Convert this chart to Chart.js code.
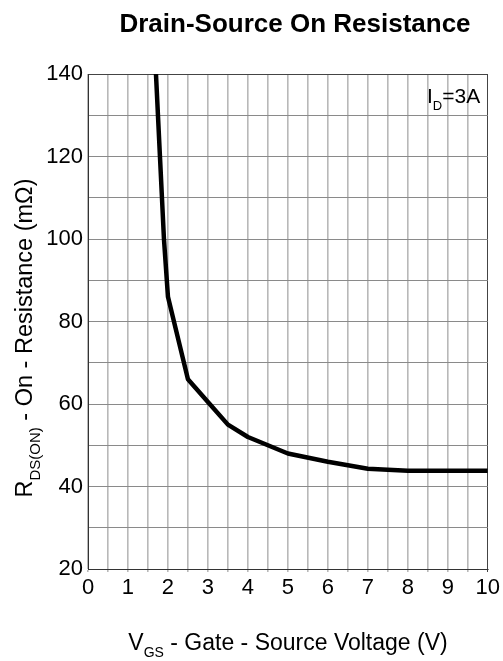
<!DOCTYPE html>
<html>
<head>
<meta charset="utf-8">
<title>Drain-Source On Resistance</title>
<script src="https://cdn.jsdelivr.net/npm/chart.js@4.4.1/dist/chart.umd.min.js"></script>
<style>
  html, body { margin: 0; padding: 0; background: #fff; }
  #wrap { width: 503px; height: 661px; position: relative; }
</style>
</head>
<body>
<div id="wrap"><canvas id="rds"></canvas></div>
<script>
// V_GS sweep (V) and measured R_DS(on) (mOhm) at I_D = 3A
const vgs   = [1.7, 1.8, 1.9, 2.0, 2.5, 3.0, 3.5, 4.0, 5.0, 6.0, 7.0, 8.0, 9.0, 10.0];
const rdsOn = [140, 120, 100, 86, 66, 60.5, 55, 52, 48, 46, 44.3, 43.8, 43.8, 43.8];

const xTickLabels = ['0', '1', '2', '3', '4', '5', '6', '7', '8', '9', '10'];
const yTickLabels = ['20', '40', '60', '80', '100', '120', '140'];

const FONT = "'Liberation Sans', Arial, Helvetica, sans-serif";

// draws a run of text pieces, some of them as subscripts
function drawRich(ctx, parts, x, y, size, align) {
  const fontFor = p => (p.bold ? 'bold ' : '') + (p.sub ? Math.round(size * 0.62) : size) + 'px ' + FONT;
  let total = 0;
  parts.forEach(p => { ctx.font = fontFor(p); total += ctx.measureText(p.text).width; });
  let cx = align === 'left' ? x : x - total / 2;
  ctx.textAlign = 'left';
  ctx.textBaseline = 'alphabetic';
  parts.forEach(p => {
    ctx.font = fontFor(p);
    ctx.fillText(p.text, cx, y + (p.sub ? size * 0.32 : 0));
    cx += ctx.measureText(p.text).width;
  });
}

const labelsPlugin = {
  id: 'labels',
  afterDraw(chart) {
    const ctx = chart.ctx;
    ctx.save();
    ctx.fillStyle = '#000';

    drawRich(ctx, [{ text: 'Drain-Source On Resistance', bold: true }], 295, 32, 26, 'center');

    drawRich(ctx, [
      { text: 'V' }, { text: 'GS', sub: true }, { text: ' - Gate - Source Voltage (V)' }
    ], 288, 650, 23, 'center');

    ctx.save();
    ctx.translate(32, 338);
    ctx.rotate(-Math.PI / 2);
    drawRich(ctx, [
      { text: 'R' }, { text: 'DS(ON)', sub: true }, { text: ' - On - Resistance (m\u03A9)' }
    ], 0, 0, 23.5, 'center');
    ctx.restore();

    drawRich(ctx, [
      { text: 'I' }, { text: 'D', sub: true }, { text: '=3A' }
    ], 427, 103, 21, 'left');

    ctx.restore();
  }
};

const points = vgs.map((v, i) => ({ x: v, y: rdsOn[i] }));

new Chart(document.getElementById('rds'), {
  type: 'line',
  data: {
    datasets: [{
      data: points,
      borderColor: '#000',
      borderWidth: 4.5,
      pointRadius: 0,
      tension: 0,
      fill: false,
      borderJoinStyle: 'round'
    }]
  },
  options: {
    responsive: true,
    maintainAspectRatio: false,
    animation: false,
    layout: { padding: { top: 74, right: 13, left: 0, bottom: 0 } },
    plugins: {
      legend: { display: false },
      tooltip: { enabled: false }
    },
    scales: {
      x: {
        type: 'linear',
        min: 0,
        max: 10,
        afterFit: s => { s.height = 92; },
        ticks: {
          stepSize: 0.5,
          autoSkip: false,
          maxRotation: 0,
          padding: 3,
          color: '#000',
          font: { family: FONT, size: 22 },
          callback: v => (Number.isInteger(v) ? xTickLabels[v] : '')
        },
        grid: {
          color: c => (c.tick && c.tick.value === 10 ? '#444' : '#b8b8b8'),
          lineWidth: c => (c.tick && c.tick.value === 10 ? 1 : 1.6),
          tickLength: 3
        },
        border: { color: '#333', width: 1 }
      },
      y: {
        type: 'linear',
        min: 20,
        max: 140,
        afterFit: s => { s.width = 88; },
        ticks: {
          stepSize: 10,
          autoSkip: false,
          padding: 5,
          color: '#000',
          font: { family: FONT, size: 22 },
          callback: v => {
            const k = (v - 20) / 20;
            return Number.isInteger(k) ? yTickLabels[k] : '';
          }
        },
        grid: {
          color: c => (c.tick && c.tick.value === 140 ? '#444' : '#8a8a8a'),
          lineWidth: 1,
          drawTicks: false
        },
        border: { color: '#333', width: 1 }
      }
    }
  },
  plugins: [labelsPlugin]
});
</script>
</body>
</html>
